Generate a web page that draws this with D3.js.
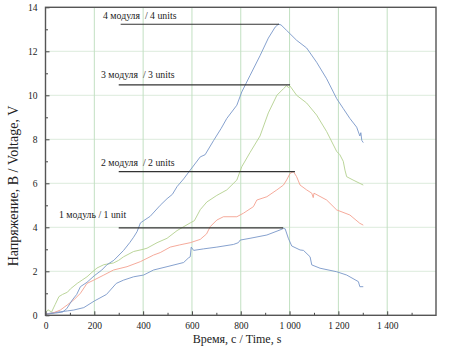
<!DOCTYPE html>
<html><head><meta charset="utf-8">
<script src="https://cdn.jsdelivr.net/npm/d3@7"></script>
<style>
html,body{margin:0;padding:0;background:#fff;}
svg text{font-family:"Liberation Serif","DejaVu Serif","Times New Roman",serif !important;fill:#222;}
</style></head>
<body><svg id="chart" width="474" height="348" style="font-family:'Liberation Serif',serif"></svg>
<script>
// ---- data ----
const xTicks = [0, 200, 400, 600, 800, 1000, 1200, 1400];
const yTicks = [0, 2, 4, 6, 8, 10, 12, 14];
const xTitle = "Время, с / Time, s";
const yTitle = "Напряжение, В / Voltage, V";

const t4 = [0,40,70,87,110,128,143,170,200,230,252,280,320,345,361,375,389,402,429,470,498,520,539,566,593,634,654,689,720,743,784,804,838,879,913,941,954,965,988,1029,1070,1111,1152,1193,1220,1247,1275,1288,1292,1296,1302];
const v4 = [0.05,0.1,0.15,0.3,0.7,0.95,1.3,1.5,1.8,2.05,2.3,2.5,2.95,3.3,3.55,3.8,4.2,4.3,4.5,5.0,5.3,5.5,5.85,6.2,6.6,7.2,7.3,7.95,8.5,8.95,9.55,10.15,10.9,11.8,12.6,13.1,13.23,13.2,12.95,12.5,12.15,11.5,10.75,9.85,9.4,8.95,8.55,8.15,8.3,7.95,7.85];

const t3 = [0,10,25,40,55,70,90,102,130,150,170,190,211,239,279,300,320,361,400,416,457,498,539,593,610,634,661,702,743,784,804,838,879,913,948,975,988,995,1002,1029,1070,1111,1152,1193,1206,1220,1227,1234,1260,1302];
const v3 = [0.1,0.25,0.15,0.5,0.85,0.95,1.05,1.2,1.45,1.6,1.75,1.95,2.15,2.3,2.38,2.5,2.66,2.9,3.0,3.05,3.3,3.5,3.85,4.2,4.3,4.8,5.15,5.45,5.7,6.15,6.75,7.4,8.15,9.2,10.0,10.3,10.44,10.35,10.42,10.0,9.65,9.1,8.35,7.45,7.3,7.0,6.6,6.3,6.15,5.92];

const t2 = [0,30,61,89,116,143,170,198,239,279,334,389,443,470,511,550,593,634,660,675,702,729,784,811,852,866,907,948,975,988,1002,1016,1029,1043,1070,1091,1097,1100,1152,1193,1247,1288,1302];
const v2 = [0.05,0.1,0.24,0.47,0.7,1.0,1.45,1.6,1.83,2.06,2.21,2.44,2.74,2.85,3.1,3.2,3.3,3.45,3.7,4.03,4.33,4.48,4.48,4.64,4.94,5.24,5.39,5.7,5.92,6.15,6.45,6.53,6.3,5.92,5.7,5.55,5.35,5.55,5.24,4.79,4.56,4.18,4.1];

const t1 = [0,30,61,90,116,157,200,250,290,320,361,402,443,498,566,585,593,597,607,648,702,770,790,798,838,907,961,975,982,995,1009,1043,1057,1084,1091,1125,1193,1234,1282,1288,1302];
const v1 = [0.05,0.12,0.16,0.2,0.24,0.35,0.65,0.95,1.45,1.6,1.75,1.83,2.06,2.21,2.4,2.6,2.66,3.1,2.95,3.02,3.1,3.22,3.3,3.42,3.5,3.65,3.88,3.95,3.93,3.5,3.15,2.97,2.95,2.66,2.29,2.14,1.98,1.83,1.53,1.3,1.3];

const annLabels = ["4 модуля\u00a0\u00a0/ 4 units", "3 модуля\u00a0\u00a0/ 3 units", "2 модуля\u00a0\u00a0/ 2 units", "1 модуль / 1 unit"];
const annLevel = [13.23, 10.47, 6.53, 3.97];
const annStart = [308, 300, 300, 300];
const annEnd = [957, 1002, 1022, 974];

// ---- drawing ----
const FONT = "'Liberation Serif', 'DejaVu Serif', serif";
const svg = d3.select("#chart");
const L = 45.5, R = 436, T = 7.3, B = 315.3;
const x = d3.scaleLinear().domain([0, 1600]).range([L, R]);
const y = d3.scaleLinear().domain([0, 14]).range([B, T]);

const g = svg.append("g");
// grid
g.selectAll(".hg").data(yTicks.filter(v => v > 0 && v < 14)).join("line")
  .attr("x1", L).attr("x2", R).attr("y1", d => y(d)).attr("y2", d => y(d))
  .attr("stroke", "#dcebdc").attr("stroke-width", 1);
g.selectAll(".vg").data(xTicks.filter(v => v > 0)).join("line")
  .attr("y1", T).attr("y2", B).attr("x1", d => x(d)).attr("x2", d => x(d))
  .attr("stroke", "#c2e0c2").attr("stroke-width", 1);

// series
const line = d3.line().x(d => x(d[0])).y(d => y(d[1]));
const series = [
  {t: t1, v: v1, c: "#7896c8"},
  {t: t2, v: v2, c: "#f4a090"},
  {t: t3, v: v3, c: "#b3d08e"},
  {t: t4, v: v4, c: "#7896c8"}
];
series.forEach(s => {
  g.append("path").datum(s.t.map((t, i) => [t, s.v[i]]))
    .attr("d", line).attr("fill", "none").attr("stroke", s.c).attr("stroke-width", 0.9);
});

// annotation lines
annLevel.forEach((lv, i) => {
  g.append("line").attr("x1", x(annStart[i])).attr("x2", x(annEnd[i]))
    .attr("y1", y(lv)).attr("y2", y(lv)).attr("stroke", "#333").attr("stroke-width", 1.2);
});
const annPos = [[103, 19], [101, 78], [101, 165.5], [59, 217.5]];
annLabels.forEach((s, i) => {
  svg.append("text").attr("x", annPos[i][0]).attr("y", annPos[i][1])
    .attr("font-family", FONT).attr("font-size", 9.8).text(s);
});

// axes
const fmt = v => v >= 1000 ? d3.format(",")(v).replace(",", "\u00a0") : String(v);
const xAxis = d3.axisBottom(x).tickValues(xTicks).tickSize(-4).tickPadding(7).tickFormat(fmt);
const xMinor = d3.axisBottom(x).tickValues(d3.range(100, 1600, 200)).tickSize(-2.5).tickFormat("");
const yAxis = d3.axisLeft(y).tickValues(yTicks).tickSize(-4).tickPadding(8).tickFormat(fmt);
const yMinor = d3.axisLeft(y).tickValues(d3.range(1, 14, 2)).tickSize(-2.5).tickFormat("");

function styleAxis(ga) {
  ga.attr("font-family", FONT);
  ga.select(".domain").remove();
  ga.selectAll("line").attr("stroke", "#444");
  ga.selectAll("text").attr("font-size", 9.5).attr("font-family", FONT).attr("fill", "#222");
}
[xAxis, xMinor].forEach(a => styleAxis(svg.append("g").attr("transform", `translate(0,${B})`).call(a)));
[yAxis, yMinor].forEach(a => styleAxis(svg.append("g").attr("transform", `translate(${L},0)`).call(a)));

// frame
svg.append("rect").attr("x", L).attr("y", T).attr("width", R - L).attr("height", B - T)
  .attr("fill", "none").attr("stroke", "#555").attr("stroke-width", 1.4);

// titles
svg.append("text").attr("x", 237).attr("y", 343).attr("text-anchor", "middle")
  .attr("font-family", FONT).attr("font-size", 12).text(xTitle);
svg.append("text").attr("transform", "translate(18,186) rotate(-90)").attr("text-anchor", "middle")
  .attr("font-family", FONT).attr("font-size", 14).text(yTitle);
</script></body></html>
